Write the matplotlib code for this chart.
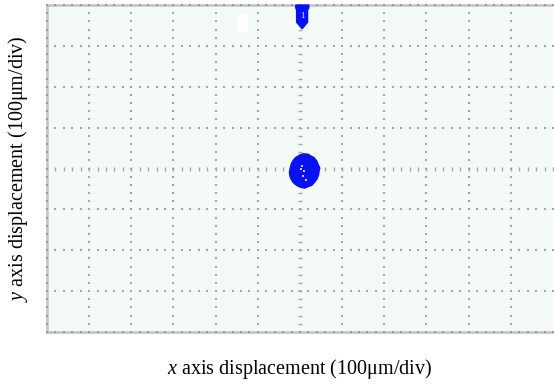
import numpy as np
import matplotlib
matplotlib.use('Agg')
import matplotlib.pyplot as plt
from matplotlib.patches import Polygon, Rectangle

plt.rcParams['font.family'] = ['Liberation Serif', 'DejaVu Serif']
plt.rcParams['mathtext.fontset'] = 'custom'
plt.rcParams['mathtext.it'] = 'Liberation Serif:italic'
plt.rcParams['mathtext.rm'] = 'Liberation Serif'

# 屏幕网格 (12 x 8 div)
n_xdiv = 12
n_ydiv = 8

# 光斑轮廓 (div)
blob_x = [5.99, 6.08, 6.19, 6.27, 6.33, 6.40, 6.43, 6.47, 6.45, 6.44, 6.40, 6.35,
          6.28, 6.20, 6.11, 6.02, 5.95, 5.88, 5.83, 5.79, 5.76, 5.75, 5.77, 5.80,
          5.84, 5.90, 5.95]
blob_y = [4.33, 4.36, 4.35, 4.30, 4.27, 4.18, 4.10, 4.01, 3.92, 3.84, 3.74, 3.67,
          3.59, 3.56, 3.52, 3.54, 3.57, 3.62, 3.67, 3.74, 3.82, 3.92, 4.02, 4.13,
          4.20, 4.27, 4.30]
# 光斑内部白点
hole_x = [6.05, 6.10, 6.08, 6.15, 6.02]
hole_y = [4.06, 3.94, 3.82, 3.73, 3.98]

# 顶部触发标记
mark_x = [5.90, 6.21, 6.21, 6.18, 6.18, 6.05, 5.92, 5.92, 5.90]
mark_y = [8.00, 8.00, 7.93, 7.88, 7.58, 7.42, 7.58, 7.88, 7.93]

bg = '#f4faf6'
grid_c = '#a5a5a5'
blue = '#0a10f5'

fig = plt.figure(figsize=(5.54, 3.86), dpi=100)
ax = fig.add_axes([0.0848, 0.1399, 0.9134, 0.847])
ax.set_facecolor(bg)
ax.set_xlim(0, n_xdiv)
ax.set_ylim(0, n_ydiv)

# 点状网格
sub = np.arange(0, n_xdiv + 0.01, 0.2)
suby = np.arange(0, n_ydiv + 0.01, 0.2)
for gx in range(1, n_xdiv):
    if gx == n_xdiv // 2:
        continue
    ax.scatter(np.full(len(suby), gx), suby, s=1.2, marker='s', color=grid_c, lw=0, zorder=1)
for gy in range(1, n_ydiv):
    if gy == n_ydiv // 2:
        continue
    ax.scatter(sub, np.full(len(sub), gy), s=1.2, marker='s', color=grid_c, lw=0, zorder=1)

# 中心轴刻度
ax.scatter(sub, np.full(len(sub), n_ydiv / 2), s=6, marker='|', color=grid_c, lw=1, zorder=1)
ax.scatter(np.full(len(suby), n_xdiv / 2), suby, s=6, marker='_', color=grid_c, lw=1, zorder=1)

# 边框刻度
for yy in (0, n_ydiv):
    ax.scatter(sub, np.full(len(sub), yy), s=2, marker='s', color='#999999', lw=0, zorder=3, clip_on=False)
ax.scatter(np.full(len(suby), 0), suby, s=2, marker='s', color='#999999', lw=0, zorder=3, clip_on=False)

for s in ax.spines.values():
    s.set_color('#c2c2c2')
    s.set_linewidth(1.8)
ax.spines['right'].set_visible(False)
ax.set_xticks([])
ax.set_yticks([])

# 白色小块
ax.add_patch(Rectangle((4.50, 7.36), 0.24, 0.42, color='white', zorder=2))

# 光斑
ax.add_patch(Polygon(np.column_stack([blob_x, blob_y]), closed=True, color=blue, zorder=4))
ax.scatter(hole_x, hole_y, s=3, marker='s', color='#c8ccf5', lw=0, zorder=5)

# 触发标记
ax.add_patch(Polygon(np.column_stack([mark_x, mark_y]), closed=True, color=blue, zorder=4, clip_on=False))
ax.text(6.05, 7.74, '1', color='white', fontsize=6, ha='center', va='center', zorder=5)

ax.set_xlabel(r'$\it{x}$ axis displacement (100μm/div)', fontsize=14.5, labelpad=18)
ax.set_ylabel(r'$\it{y}$ axis displacement (100μm/div)', fontsize=14.5, labelpad=12)

fig.savefig('out.png', dpi=100)
